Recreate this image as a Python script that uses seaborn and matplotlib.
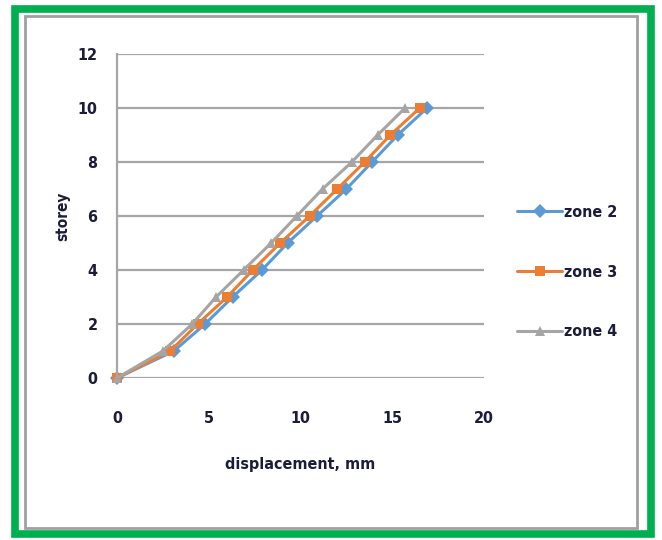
import matplotlib
matplotlib.use("Agg")
import matplotlib.pyplot as plt
import seaborn as sns
import pandas as pd
from matplotlib.patches import Rectangle

storey = [0, 1, 2, 3, 4, 5, 6, 7, 8, 9, 10]
zone2 = [0, 3.1, 4.8, 6.3, 7.9, 9.3, 10.9, 12.5, 13.9, 15.3, 16.9]
zone3 = [0, 2.9, 4.4, 6.0, 7.4, 8.9, 10.5, 12.0, 13.5, 14.9, 16.5]
zone4 = [0, 2.5, 4.1, 5.4, 6.9, 8.4, 9.8, 11.2, 12.8, 14.2, 15.7]
series_names = ["zone 2", "zone 3", "zone 4"]
x_ticks = [0, 5, 10, 15, 20]
y_ticks = [0, 2, 4, 6, 8, 10, 12]

sns.set_style("white")
plt.rcParams['font.family'] = ['DejaVu Sans']
plt.rcParams['font.stretch'] = 'condensed'

rows = []
for name, vals in zip(series_names, [zone2, zone3, zone4]):
    for s, v in zip(storey, vals):
        rows.append({"zone": name, "displacement": v, "storey": s})
df = pd.DataFrame(rows)

fig = plt.figure(figsize=(6.62, 5.40), dpi=100)
ax = fig.add_axes([117/662, 1-378/540, (484-117)/662, (378-54)/540])

palette = {"zone 2": "#5B9BD5", "zone 3": "#ED7D31", "zone 4": "#A5A5A5"}
markers = {"zone 2": "D", "zone 3": "s", "zone 4": "^"}
sns.lineplot(data=df, x="displacement", y="storey", hue="zone", style="zone",
             palette=palette, markers=markers, dashes=False, sort=False,
             linewidth=2.2, markersize=7.5, markeredgewidth=0, ax=ax, legend=True)

ax.set_xlim(0, 20)
ax.set_ylim(0, 12)
ax.set_xticks(x_ticks)
ax.set_yticks(y_ticks)
ax.yaxis.grid(True, color="#a6a6a6", linewidth=1.6)
ax.xaxis.grid(False)
for side in ["top", "right", "bottom"]:
    ax.spines[side].set_visible(False)
ax.spines["left"].set_color("#a6a6a6")
ax.spines["left"].set_linewidth(1.6)
ax.set_axisbelow(True)
for ln in ax.lines:
    ln.set_clip_on(False)

txt_color = "#1c1c3a"
ax.tick_params(axis="x", length=0, pad=24, labelsize=11.5, labelcolor=txt_color)
ax.tick_params(axis="y", length=0, pad=14, labelsize=11.5, labelcolor=txt_color)
for lab in ax.get_xticklabels() + ax.get_yticklabels():
    lab.set_fontweight("bold")

ax.set_xlabel("displacement, mm", fontsize=11.5, fontweight="bold", color=txt_color, labelpad=22)
ax.set_ylabel("storey", fontsize=11, fontweight="bold", color=txt_color, labelpad=5)

handles, labels = ax.get_legend_handles_labels()
ax.get_legend().remove()
leg = fig.legend(handles, labels, loc="center left", bbox_to_anchor=(511/662, 1-272/540),
                 frameon=False, fontsize=11.5, labelspacing=2.8, handlelength=2.8,
                 handletextpad=0.1, borderaxespad=0)
for t in leg.get_texts():
    t.set_fontweight("bold")
    t.set_color(txt_color)

# inner gray frame
fig.add_artist(Rectangle((25/662, 1-528/540), (637-25)/662, (528-16)/540,
                         transform=fig.transFigure, fill=False,
                         edgecolor="#a0a0a0", linewidth=2))
# green outer frame
fig.add_artist(Rectangle((14.5/662, 1-534/540), (651-14.5)/662, (534-9)/540,
                         transform=fig.transFigure, fill=False,
                         edgecolor="#00B050", linewidth=5.5))

fig.savefig("out.png", dpi=100)
